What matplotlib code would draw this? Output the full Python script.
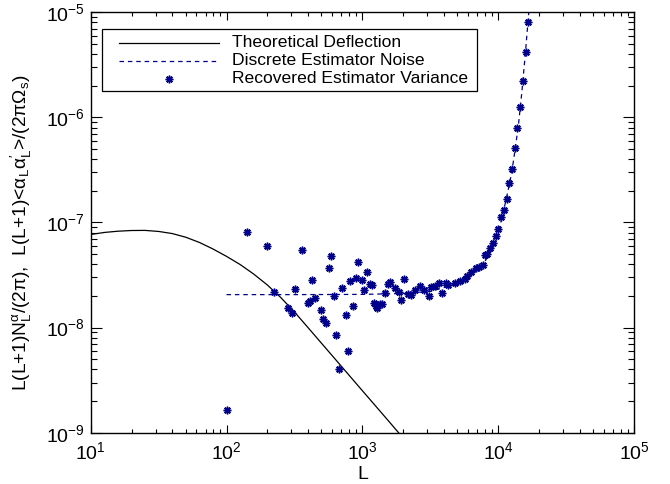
import numpy as np
import matplotlib
matplotlib.use('Agg')
import matplotlib.pyplot as plt
from matplotlib.ticker import LogLocator, NullFormatter

plt.rcParams['font.family'] = ['Liberation Sans', 'DejaVu Sans']
plt.rcParams['mathtext.fontset'] = 'custom'
plt.rcParams['mathtext.rm'] = 'Liberation Sans'
plt.rcParams['mathtext.it'] = 'Liberation Sans:italic'
plt.rcParams['mathtext.default'] = 'regular'

# theoretical deflection curve
theory_L = [10, 12.6, 15.8, 20.0, 25.1, 31.6, 39.8, 50.1, 63.1, 79.4, 100, 126,
            158, 200, 251, 316, 398, 501, 631, 794, 1000, 1259, 1585, 1995]
theory_y = [7.69e-8, 8.04e-8, 8.26e-8, 8.39e-8, 8.41e-8, 8.22e-8, 7.85e-8,
            7.24e-8, 6.46e-8, 5.60e-8, 4.76e-8, 3.98e-8, 3.24e-8, 2.54e-8,
            1.93e-8, 1.41e-8, 1.00e-8, 7.08e-9, 5.01e-9, 3.55e-9, 2.51e-9,
            1.78e-9, 1.26e-9, 8.9e-10]

# discrete estimator noise (dashed)
noise_L = [100, 316, 1000, 1995, 3162, 3981, 5012, 5623, 6310, 7079, 7943,
           8913, 10000, 10590, 11220, 11890, 12590, 13340, 14130, 14960,
           15850, 16790, 17380]
noise_y = [2.06e-8, 2.06e-8, 2.07e-8, 2.11e-8, 2.21e-8, 2.40e-8, 2.66e-8,
           2.88e-8, 3.16e-8, 3.59e-8, 4.22e-8, 5.37e-8, 8.13e-8, 1.07e-7,
           1.48e-7, 2.09e-7, 3.02e-7, 5.01e-7, 8.71e-7, 1.78e-6, 4.07e-6,
           1.0e-5, 1.78e-5]

# recovered estimator variance (asterisks)
rec_L = [100, 142, 200, 223, 284, 301, 318, 362, 398, 409, 427, 446, 500, 514,
         538, 565, 592, 622, 637, 673, 713, 762, 783, 807, 853, 904, 935, 993,
         1023, 1081, 1132, 1186, 1211, 1268, 1288, 1340, 1403, 1476, 1542, 1589,
         1730, 1862, 1936, 2037, 2163, 2291, 2427, 2636, 2825, 3090, 3214, 3404,
         3656, 3846, 4093, 4266, 4775, 5200, 5649, 5943, 6324, 6808, 7278, 7709,
         7960, 8241, 8770, 9183, 9661, 10046, 10520, 10990, 11560, 12100, 12680,
         13240, 13800, 14520, 15170, 15890, 16520]
rec_y = [1.63e-9, 8.09e-8, 6.04e-8, 2.18e-8, 1.55e-8, 1.38e-8, 2.35e-8, 5.45e-8,
         1.71e-8, 1.78e-8, 2.81e-8, 1.91e-8, 1.46e-8, 1.22e-8, 1.11e-8, 3.72e-8,
         4.85e-8, 2.00e-8, 8.57e-9, 4.07e-9, 2.40e-8, 1.33e-8, 5.94e-9, 2.78e-8,
         1.62e-8, 2.99e-8, 4.19e-8, 2.82e-8, 2.26e-8, 3.37e-8, 2.62e-8, 2.53e-8,
         1.71e-8, 1.60e-8, 1.52e-8, 1.67e-8, 1.66e-8, 2.15e-8, 2.58e-8, 2.72e-8,
         2.40e-8, 2.18e-8, 1.82e-8, 2.88e-8, 2.11e-8, 2.04e-8, 2.30e-8, 2.49e-8,
         2.26e-8, 2.00e-8, 2.44e-8, 2.47e-8, 2.66e-8, 2.15e-8, 2.66e-8, 2.53e-8,
         2.64e-8, 2.75e-8, 2.88e-8, 3.08e-8, 3.39e-8, 3.65e-8, 3.78e-8, 3.98e-8,
         4.89e-8, 4.99e-8, 5.78e-8, 6.40e-8, 7.41e-8, 8.69e-8, 1.12e-7, 1.31e-7,
         1.66e-7, 2.38e-7, 3.24e-7, 5.07e-7, 7.91e-7, 1.26e-6, 2.23e-6, 4.16e-6,
         8.04e-6]

labels = ['Theoretical Deflection', 'Discrete Estimator Noise',
          'Recovered Estimator Variance']
blue = '#00008b'
star = (8, 2, 0)

fig = plt.figure(figsize=(6.7, 4.84), dpi=100)
ax = fig.add_axes([0.1354, 0.106, 0.8109, 0.8686])

ax.plot(theory_L, theory_y, color='black', lw=0.9)
ax.plot(noise_L, noise_y, color=blue, lw=0.9, dashes=(3.6, 3.1))
ax.plot(rec_L, rec_y, ls='none', marker=star, ms=5.5, mew=1.1, color=blue)

ax.set_xscale('log')
ax.set_yscale('log')
ax.set_xlim(10, 1e5)
ax.set_ylim(1e-9, 1e-5)
ax.xaxis.set_minor_locator(LogLocator(base=10, subs=np.arange(2, 10)))
ax.yaxis.set_minor_locator(LogLocator(base=10, subs=np.arange(2, 10)))
ax.xaxis.set_minor_formatter(NullFormatter())
ax.yaxis.set_minor_formatter(NullFormatter())

ax.tick_params(which='both', direction='in', top=True, right=True,
               labelsize=14, width=0.8)
ax.tick_params(axis='x', which='major', length=5.8, pad=6)
ax.tick_params(axis='x', which='minor', length=2.9)
ax.tick_params(axis='y', which='major', length=7.9, pad=4)
ax.tick_params(axis='y', which='minor', length=4.3)
for sp in ax.spines.values():
    sp.set_linewidth(1.0)

ax.set_xlabel('L', fontsize=14, labelpad=2)
ax.set_ylabel(r'L(L+1)N$^{\alpha}_{L}$/(2$\pi$),  '
              r'L(L+1)<$\alpha_{L}\alpha^{\prime}_{L}$>/(2$\pi\Omega_{s}$)',
              fontsize=13.8)
ax.yaxis.set_label_coords(-0.104, 0.476)

# legend box drawn by hand (IDL style)
box = plt.Rectangle((0.0213, 0.8135), 0.6892, 0.1465, transform=ax.transAxes,
                    fill=False, ec='black', lw=0.9)
ax.add_patch(box)
ax.plot([0.0521, 0.2362], [0.9277, 0.9277], transform=ax.transAxes,
        color='black', lw=0.9)
ax.plot([0.0521, 0.2362], [0.8849, 0.8849], transform=ax.transAxes,
        color=blue, lw=0.9, dashes=(3.6, 3.1))
ax.plot([0.1442], [0.8414], transform=ax.transAxes, ls='none',
        marker=star, ms=5.5, mew=1.1, color=blue)
for yy, lab in zip([0.9277, 0.8849, 0.8414], labels):
    ax.text(0.2597, yy, lab, transform=ax.transAxes, fontsize=12.6,
            va='center', ha='left')

fig.savefig('out.png', dpi=100)
